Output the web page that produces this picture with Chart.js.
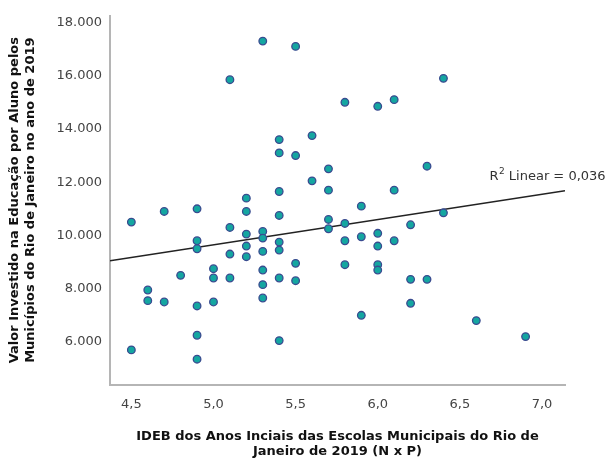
<!DOCTYPE html>
<html>
<head>
<meta charset="utf-8">
<script src="https://cdn.jsdelivr.net/npm/chart.js@4"></script>
<style>
  html, body { margin: 0; padding: 0; background: #fff; }
  #wrap { width: 612px; height: 459px; }
</style>
</head>
<body>
<div id="wrap"><canvas id="c" width="612" height="459"></canvas></div>
<script>
// --------------------------------------------------------------
// Dados (IDEB x valor investido por aluno)
// --------------------------------------------------------------
const ideb = [
  5.3, 5.5, 5.1, 5.8, 5.4, 5.6, 5.4, 5.5, 5.7, 5.6,
  5.7, 5.4, 5.2, 6.0, 6.1, 6.4, 6.3, 6.1, 4.5, 4.7,
  4.9, 5.2, 5.4, 5.7, 5.7, 5.8, 5.8, 5.8, 5.9, 5.9,
  5.9, 5.1, 4.9, 4.9, 5.2, 5.2, 5.2, 5.1, 5.3, 5.3,
  5.3, 5.3, 5.3, 5.3, 5.4, 5.4, 5.4, 5.4, 5.5, 5.5,
  5.0, 5.0, 5.0, 5.1, 4.8, 4.6, 4.6, 4.7, 4.9, 4.9,
  4.9, 4.5, 6.4, 6.2, 6.0, 6.0, 6.1, 6.0, 6.0, 6.2,
  6.3, 6.2, 6.6, 6.9
];
const valorAluno = [
  17300, 17100, 15850, 15000, 13600, 13750, 13100, 13000, 12500, 12050,
  11700, 11650, 11400, 14850, 15100, 15900, 12600, 11700, 10500, 10900,
  11000, 10900, 10750, 10600, 10250, 10450, 9800, 8900, 11100, 9950,
  7000, 10300, 9800, 9500, 10050, 9600, 9200, 9300, 10150, 9900,
  9400, 8700, 8150, 7650, 9750, 9450, 8400, 6050, 8950, 8300,
  8750, 8400, 7500, 8400, 8500, 7950, 7550, 7500, 7350, 6250,
  5350, 5700, 10850, 10400, 10080, 9600, 9800, 8900, 8700, 8350,
  8350, 7450, 6800, 6200
];

// reta de ajuste linear (extremos)
const ajusteX = [4.37, 7.14];
const ajusteY = [9050, 11680];

const xTicks = [4.5, 5.0, 5.5, 6.0, 6.5, 7.0];
const yTicks = [6000, 8000, 10000, 12000, 14000, 16000, 18000];

const rotuloR2 = "0,036";

const FONTE = "'DejaVu Sans', Arial, sans-serif";

// --------------------------------------------------------------
// Helpers
// --------------------------------------------------------------
function fmtX(v) {
  return v.toFixed(1).replace(".", ",");
}
function fmtY(v) {
  return v.toLocaleString("de-DE");
}

const pontos = ideb.map((x, i) => ({ x: x, y: valorAluno[i] }));
const reta = ajusteX.map((x, i) => ({ x: x, y: ajusteY[i] }));

// rótulo "R² Linear = 0,036" ao lado da reta
const r2Plugin = {
  id: "r2Label",
  afterDatasetsDraw(chart) {
    const ctx = chart.ctx;
    const sx = chart.scales.x, sy = chart.scales.y;
    const px = sx.getPixelForValue(6.68);
    const py = sy.getPixelForValue(12200);
    ctx.save();
    ctx.fillStyle = "#333";
    ctx.textBaseline = "middle";
    ctx.font = "13px " + FONTE;
    ctx.fillText("R", px, py);
    const w = ctx.measureText("R").width;
    ctx.font = "9px " + FONTE;
    ctx.fillText("2", px + w + 0.5, py - 5);
    const w2 = ctx.measureText("2").width;
    ctx.font = "13px " + FONTE;
    ctx.fillText(" Linear = " + rotuloR2, px + w + w2 + 0.5, py);
    ctx.restore();
  }
};

new Chart(document.getElementById("c").getContext("2d"), {
  type: "scatter",
  data: {
    datasets: [
      {
        label: "Municípios",
        data: pontos,
        pointRadius: 3.8,
        pointBackgroundColor: "#14a6a1",
        pointBorderColor: "#3a4b90",
        pointBorderWidth: 1.3
      },
      {
        type: "line",
        label: "Linear",
        data: reta,
        borderColor: "#222",
        borderWidth: 1.6,
        pointRadius: 0,
        fill: false
      }
    ]
  },
  options: {
    responsive: false,
    animation: false,
    layout: { padding: { left: 0, right: 47, top: 15, bottom: 0 } },
    plugins: {
      legend: { display: false },
      tooltip: { enabled: false }
    },
    scales: {
      x: {
        type: "linear",
        min: 4.37,
        max: 7.14,
        afterBuildTicks: s => { s.ticks = xTicks.map(v => ({ value: v })); },
        grid: { display: false, drawTicks: false },
        border: { display: true, color: "#b5b5b5", width: 2 },
        ticks: {
          padding: 12,
          color: "#444",
          font: { family: FONTE, size: 13 },
          callback: v => fmtX(v),
          maxRotation: 0
        },
        title: {
          display: true,
          text: ["IDEB dos Anos Inciais das Escolas Municipais do Rio de", "Janeiro de 2019 (N x P)"],
          color: "#111",
          font: { family: FONTE, size: 13, weight: "bold", lineHeight: 1.15 },
          padding: { top: 5, bottom: 0 }
        }
      },
      y: {
        type: "linear",
        min: 4400,
        max: 18250,
        afterBuildTicks: s => { s.ticks = yTicks.map(v => ({ value: v })); },
        afterFit: s => { s.width = 110; },
        grid: { display: false, drawTicks: false },
        border: { display: true, color: "#b5b5b5", width: 2 },
        ticks: {
          padding: 8,
          color: "#444",
          font: { family: FONTE, size: 13 },
          callback: v => fmtY(v)
        },
        title: {
          display: true,
          text: ["Valor Investido na Educação por Aluno pelos", "Municípios do Rio de Janeiro no ano de 2019"],
          color: "#111",
          font: { family: FONTE, size: 13, weight: "bold", lineHeight: 1.2 },
          padding: { top: 7, bottom: 4 }
        }
      }
    }
  },
  plugins: [r2Plugin]
});
</script>
</body>
</html>
